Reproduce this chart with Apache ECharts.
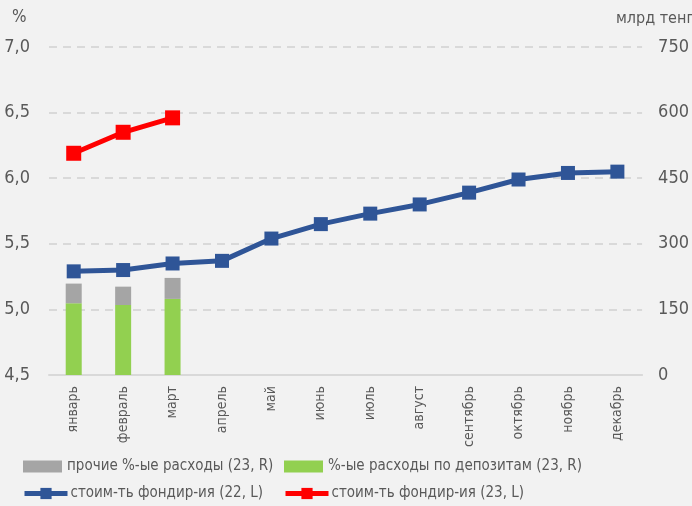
<!DOCTYPE html>
<html><head><meta charset="utf-8">
<script src="https://cdn.jsdelivr.net/npm/echarts@6/dist/echarts.min.js"></script>
<style>html,body{margin:0;padding:0;background:#f2f2f2}#c{width:692px;height:506px}</style>
</head><body><div id="c"></div>
<script>
var categories = ['январь','февраль','март','апрель','май','июнь','июль','август','сентябрь','октябрь','ноябрь','декабрь'];
var cost22 = [5.29, 5.30, 5.35, 5.37, 5.54, 5.65, 5.73, 5.80, 5.89, 5.99, 6.04, 6.05];
var cost23 = [6.19, 6.35, 6.46];
var depositExp23 = [164, 160, 174];
var otherExp23 = [45, 42, 48];
var leftTicks = [4.5, 5.0, 5.5, 6.0, 6.5, 7.0];
var rightTicks = [0, 150, 300, 450, 600, 750];

var FONT = "'DejaVu Sans Condensed','Liberation Sans Narrow','Roboto',sans-serif";
var chart = echarts.init(document.getElementById('c'));
function lg(name, left, top, w, h, icon, pad) {
  var o = {data: [name], left: left, top: top, padding: 0, itemWidth: w, itemHeight: h, itemGap: 0,
    textStyle: {color: '#595959', fontSize: 15, fontFamily: FONT, padding: [0,0,0,pad]},
    lineStyle: {width: 5}};
  if (icon) o.icon = icon;
  return o;
}
chart.setOption({
  backgroundColor: '#f2f2f2',
  animation: false,
  textStyle: {fontFamily: FONT},
  grid: {left: 49, right: 40, top: 47, bottom: 131, containLabel: false},
  graphic: [
    {type: 'text', left: 12, top: 9, style: {text: '%', fontSize: 17, fill: '#595959', fontFamily: FONT}},
    {type: 'text', left: 616, top: 11, style: {text: 'млрд тенге', fontSize: 16, fill: '#595959', fontFamily: FONT}}
  ],
  legend: [
    lg('прочие %-ые расходы (23, R)', 23, 459, 39, 12, 'rect', 0),
    lg('%-ые расходы по депозитам (23, R)', 284, 459, 39, 12, 'rect', 0),
    lg('стоим-ть фондир-ия (22, L)', 22, 486, 43, 14, null, -2),
    lg('стоим-ть фондир-ия (23, L)', 283, 486, 43, 14, null, -2)
  ],
  xAxis: {
    type: 'category', data: categories,
    axisLine: {lineStyle: {color: '#d9d9d9', width: 2}},
    axisTick: {show: false},
    axisLabel: {rotate: 90, color: '#595959', fontSize: 14, fontFamily: FONT, margin: 11, interval: 0}
  },
  yAxis: [
    {type: 'value', min: 4.5, max: 7.0, interval: 0.5,
     axisLine: {show: false}, axisTick: {show: false},
     axisLabel: {color: '#595959', fontSize: 18, fontFamily: FONT, margin: 19,
       formatter: function(v){ return leftTicks.indexOf(Math.round(v*10)/10) >= 0 ? v.toFixed(1).replace('.', ',') : ''; }},
     splitLine: {lineStyle: {color: '#d9d9d9', type: [8, 6], width: 2}}},
    {type: 'value', min: 0, max: 750, interval: 150,
     axisLine: {show: false}, axisTick: {show: false},
     axisLabel: {color: '#595959', fontSize: 18, fontFamily: FONT, margin: 16, align: 'left',
       formatter: function(v){ return rightTicks.indexOf(v) >= 0 ? String(v) : ''; }},
     splitLine: {show: false}}
  ],
  series: [
    {name: '%-ые расходы по депозитам (23, R)', type: 'bar', yAxisIndex: 1, stack: 'exp', barWidth: 16,
     data: depositExp23, itemStyle: {color: '#92d050'}},
    {name: 'прочие %-ые расходы (23, R)', type: 'bar', yAxisIndex: 1, stack: 'exp', barWidth: 16,
     data: otherExp23, itemStyle: {color: '#a5a5a5'}},
    {name: 'стоим-ть фондир-ия (22, L)', type: 'line', yAxisIndex: 0, data: cost22,
     symbol: 'rect', symbolSize: 14, lineStyle: {color: '#2f5597', width: 5}, itemStyle: {color: '#2f5597'}, z: 5},
    {name: 'стоим-ть фондир-ия (23, L)', type: 'line', yAxisIndex: 0, data: cost23,
     symbol: 'rect', symbolSize: 15, lineStyle: {color: '#ff0000', width: 5}, itemStyle: {color: '#ff0000'}, z: 6}
  ]
});
</script></body></html>
